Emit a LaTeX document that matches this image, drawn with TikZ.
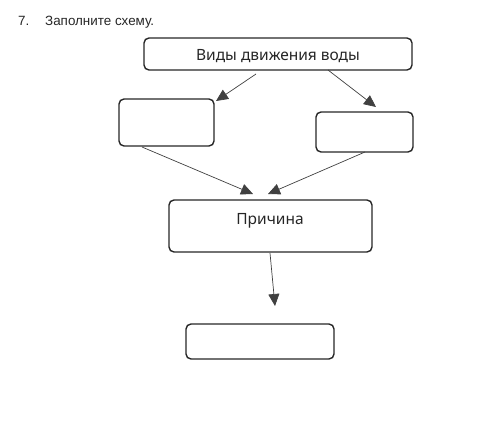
\documentclass[tikz,border=0pt]{standalone}
\usepackage{fontspec}
\setmainfont{Liberation Sans}
\newfontfamily\boxfont{Noto Sans}
\usetikzlibrary{arrows.meta}
\begin{document}
\begin{tikzpicture}[x=1pt,y=-1pt,
  box/.style={draw=black!85,line width=1.4pt,rounded corners=5pt},
  conn/.style={draw=black!75,line width=0.7pt,-{Triangle[length=12pt,width=11pt]}},
  lbl/.style={font=\boxfont\fontsize{15.5}{18}\selectfont,text=black!85,inner sep=0pt},
  hdr/.style={anchor=base west,font=\fontsize{13.4}{16}\selectfont,text=black!85,inner sep=0pt}]
\useasboundingbox (0,0) rectangle (500,443);
\node[hdr] (num) at (18,26) {7.};
\node[hdr] (task) at (45,26) {Заполните схему.};
\draw[box] (144,38) rectangle (412,70);
\node[lbl,anchor=base] (top) at (278,61) {Виды движения воды};
\draw[box] (119,99) rectangle (214,146);
\draw[box] (316,112) rectangle (413,152);
\draw[box] (169,200) rectangle (372,252);
\node[lbl,anchor=base] (cause) at (270,225) {Причина};
\draw[box] (186,324) rectangle (334,359);
\coordinate (a1) at (256,74);
\coordinate (a2) at (216,101);
\coordinate (b1) at (328,70);
\coordinate (b2) at (376,107);
\coordinate (c1) at (142,147);
\coordinate (c2) at (253,194);
\coordinate (d1) at (365,152);
\coordinate (d2) at (268,194);
\coordinate (e1) at (270,253);
\coordinate (e2) at (275,306);
\draw[conn] (a1) -- (a2);
\draw[conn] (b1) -- (b2);
\draw[conn] (c1) -- (c2);
\draw[conn] (d1) -- (d2);
\draw[conn] (e1) -- (e2);
\end{tikzpicture}
\end{document}
